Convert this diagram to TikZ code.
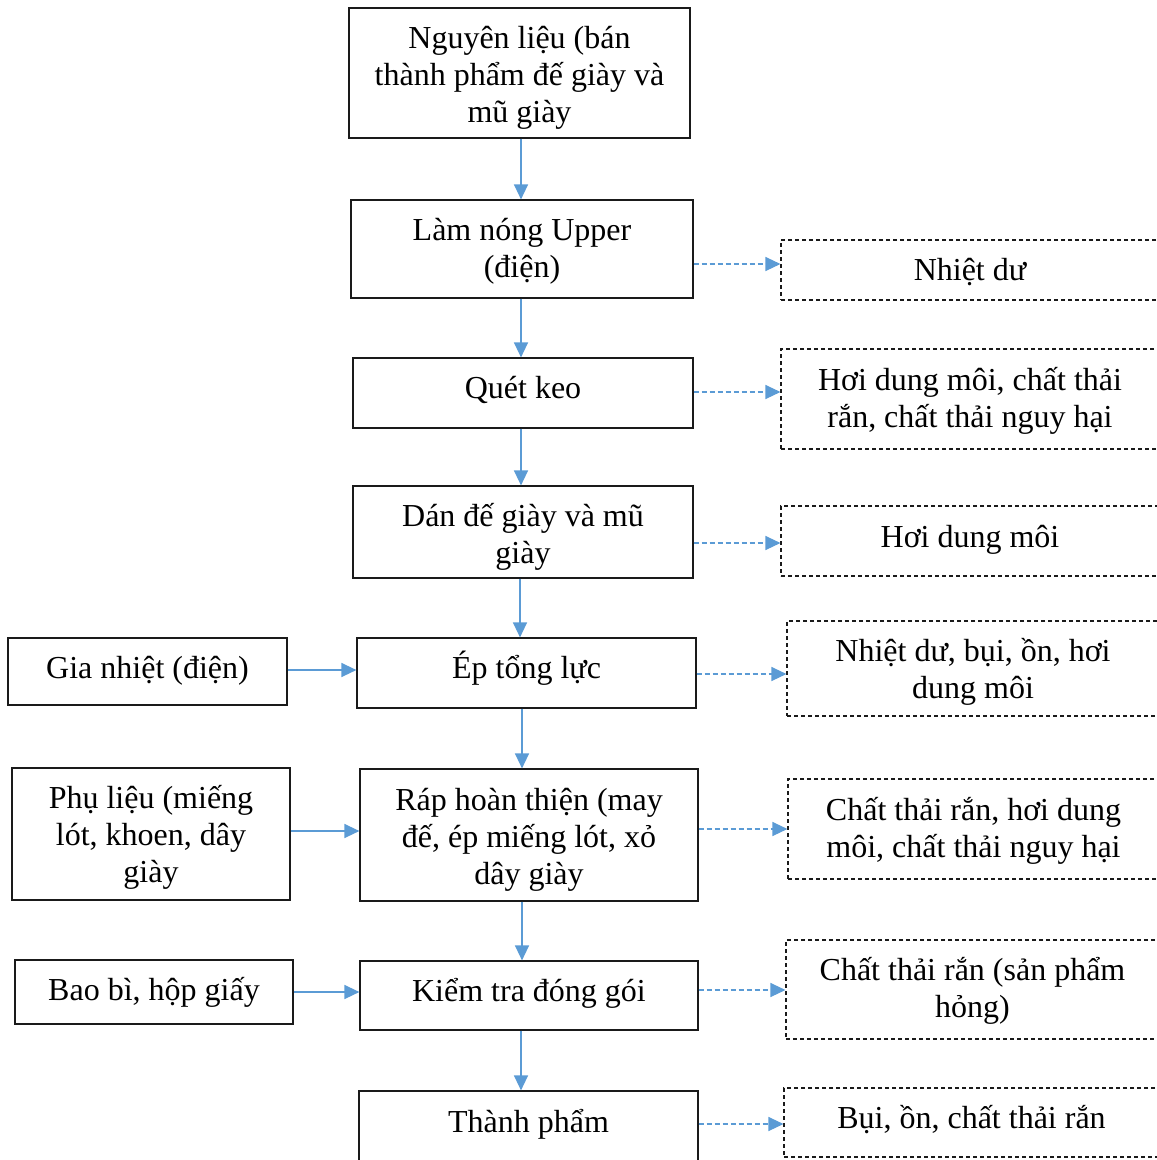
\documentclass[tikz,border=0pt]{standalone}
\usepackage{fontspec}
\setmainfont{Liberation Serif}
\usetikzlibrary{arrows.meta}
\definecolor{flowblue}{HTML}{5B9BD5}
\definecolor{edge}{HTML}{1A1A1A}
\begin{document}
\lineskiplimit=-20pt
\begin{tikzpicture}[x=1pt,y=-1pt,
  every node/.style={font=\fontsize{32}{37}\selectfont,
    align=center, inner sep=0pt, text height=30pt},
  % text block size: height above the last baseline, depth below it
  tx/.style={text depth=#1pt},
  twolines/.style={text height=67pt},
  threelines/.style={text height=104pt},
  box/.style={draw=edge, line width=1.2pt},
  wastebox/.style={draw=edge, line width=1.1pt, dash pattern=on 4pt off 3pt},
  flow/.style={draw=flowblue, line width=1.4pt, -{Triangle[length=15pt,width=14pt]}},
  wasteflow/.style={draw=flowblue, line width=1.2pt, dash pattern=on 5pt off 3pt, -{Triangle[length=15pt,width=14pt]}}]
\useasboundingbox (0,0) rectangle (1157,1160);
\clip (0,0) rectangle (1157,1160);

% main process column
\node[box, threelines, tx=5, minimum width=341pt, minimum height=130pt] (n1) at (519.5,73)
  {Nguyên liệu (bán\\thành phẩm đế giày và\\mũ giày};
\node[box, twolines, tx=10, minimum width=342pt, minimum height=98pt] (n2) at (522,249)
  {Làm nóng Upper\\(điện)};
\node[box, tx=19, minimum width=340pt, minimum height=70pt] (n3) at (523,393)
  {Quét keo};
\node[box, twolines, tx=5, minimum width=340pt, minimum height=92pt] (n4) at (523,532)
  {Dán đế giày và mũ\\giày};
\node[box, tx=19, minimum width=339pt, minimum height=70pt] (n5) at (526.5,673)
  {Ép tổng lực};
\node[box, threelines, tx=6, minimum width=338pt, minimum height=132pt] (n6) at (529,835)
  {Ráp hoàn thiện (may\\đế, ép miếng lót, xỏ\\dây giày};
\node[box, tx=18, minimum width=338pt, minimum height=69pt] (n7) at (529,995.5)
  {Kiểm tra đóng gói};
\node[box, tx=19, minimum width=339pt, minimum height=72pt] (n8) at (528.5,1127)
  {Thành phẩm};

% inputs on the left
\node[box, tx=16, minimum width=279pt, minimum height=67pt] (l1) at (147.5,671.5)
  {Gia nhiệt (điện)};
\node[box, threelines, tx=7, minimum width=278pt, minimum height=132pt] (l2) at (151,834)
  {Phụ liệu (miếng\\lót, khoen, dây\\giày};
\node[box, tx=13, minimum width=278pt, minimum height=64pt] (l3) at (154,992)
  {Bao bì, hộp giấy};

% emissions on the right
\node[wastebox, tx=9, minimum width=378pt, minimum height=60pt] (r1) at (970,270)
  {Nhiệt dư};
\node[wastebox, twolines, tx=11, minimum width=378pt, minimum height=100pt] (r2) at (970,399)
  {Hơi dung môi, chất thải\\rắn, chất thải nguy hại};
\node[wastebox, tx=17, minimum width=378pt, minimum height=70pt] (r3) at (970,541)
  {Hơi dung môi};
\node[wastebox, twolines, tx=7, minimum width=372pt, minimum height=95pt] (r4) at (973,668.5)
  {Nhiệt dư, bụi, ồn, hơi\\dung môi};
\node[wastebox, twolines, tx=11, minimum width=371pt, minimum height=100pt] (r5) at (973.5,829)
  {Chất thải rắn, hơi dung\\môi, chất thải nguy hại};
\node[wastebox, twolines, tx=12, minimum width=373pt, minimum height=99pt] (r6) at (972.5,989.5)
  {Chất thải rắn (sản phẩm\\hỏng)};
\node[wastebox, tx=18, minimum width=375pt, minimum height=69pt] (r7) at (971.5,1122.5)
  {Bụi, ồn, chất thải rắn};

% main flow
\draw[flow] (n1.south -| 521,0) -- (n2.north -| 521,0);
\draw[flow] (n2.south -| 521,0) -- (n3.north -| 521,0);
\draw[flow] (n3.south -| 521,0) -- (n4.north -| 521,0);
\draw[flow] (n4.south -| 520,0) -- (n5.north -| 520,0);
\draw[flow] (n5.south -| 522,0) -- (n6.north -| 522,0);
\draw[flow] (n6.south -| 522,0) -- (n7.north -| 522,0);
\draw[flow] (n7.south -| 521,0) -- (n8.north -| 521,0);

% inputs
\draw[flow] (l1.east |- 0,670) -- (n5.west |- 0,670);
\draw[flow] (l2.east |- 0,831) -- (n6.west |- 0,831);
\draw[flow] (l3.east |- 0,992) -- (n7.west |- 0,992);

% emissions
\draw[wasteflow] (n2.east |- 0,264) -- (r1.west |- 0,264);
\draw[wasteflow] (n3.east |- 0,392) -- (r2.west |- 0,392);
\draw[wasteflow] (n4.east |- 0,543) -- (r3.west |- 0,543);
\draw[wasteflow] (n5.east |- 0,674) -- (r4.west |- 0,674);
\draw[wasteflow] (n6.east |- 0,829) -- (r5.west |- 0,829);
\draw[wasteflow] (n7.east |- 0,990) -- (r6.west |- 0,990);
\draw[wasteflow] (n8.east |- 0,1124) -- (r7.west |- 0,1124);
\end{tikzpicture}
\end{document}
